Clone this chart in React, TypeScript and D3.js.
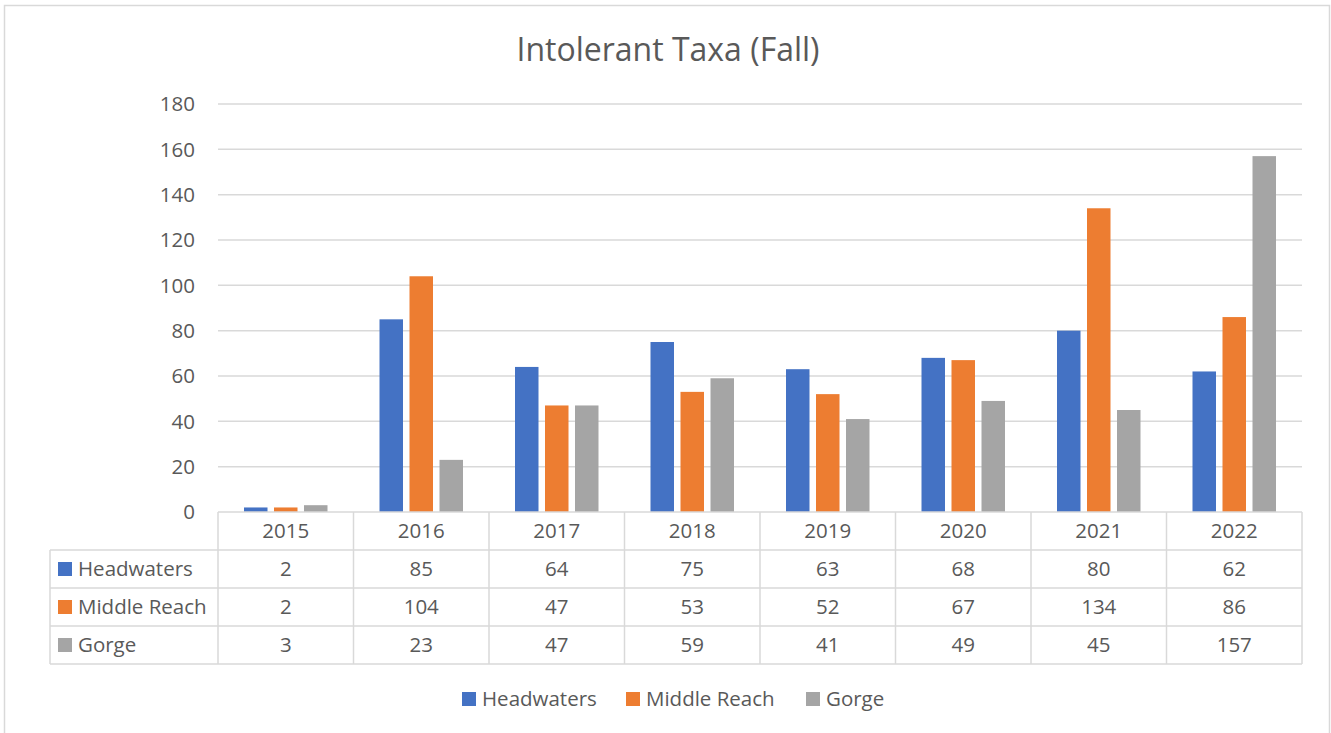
import React from "react";
import * as d3 from "d3";

const years = ["2015", "2016", "2017", "2018", "2019", "2020", "2021", "2022"];
const seriesNames = ["Headwaters", "Middle Reach", "Gorge"];
const headwaters = [2, 85, 64, 75, 63, 68, 80, 62];
const middleReach = [2, 104, 47, 53, 52, 67, 134, 86];
const gorge = [3, 23, 47, 59, 41, 49, 45, 157];
const colors = ["#4472C4", "#ED7D31", "#A5A5A5"];
const yTicks = [0, 20, 40, 60, 80, 100, 120, 140, 160, 180];
const title = "Intolerant Taxa (Fall)";

const FONT = "'Open Sans', sans-serif";
const TXT = "#595959";
const GRID = "#D9D9D9";

export default function App() {
  const W = 1331, H = 733;
  const left = 218, right = 1302, top = 104, bottom = 512;
  const series = [headwaters, middleReach, gorge];
  const x = d3.scaleBand<string>().domain(years).range([left, right]).paddingInner(0).paddingOuter(0);
  const y = d3.scaleLinear().domain([0, 180]).range([bottom, top]);
  const step = 30, bw = 23.5;
  const rowH = 38;
  const tableLeft = 50;
  const headerBottom = bottom + rowH;
  const fs = 20.5;

  return (
    <svg width={W} height={H} style={{ position: "absolute", left: 0, top: 0, background: "#fff" }} fontFamily={FONT}>
      <rect x={4.5} y={5.5} width={1325} height={740} fill="#fff" stroke={GRID} strokeWidth={1.5} />
      <text x={668} y={61} textAnchor="middle" fontSize={32} fill={TXT}>{title}</text>
      {yTicks.map((t) => (
        <g key={t}>
          {t > 0 && <line x1={left} x2={right} y1={y(t)} y2={y(t)} stroke={GRID} strokeWidth={1.5} />}
          <text x={195} y={y(t)} dy="0.35em" textAnchor="end" fontSize={fs} fill={TXT}>{t}</text>
        </g>
      ))}
      {years.map((yr, i) => {
        const c = (x(yr) as number) + x.bandwidth() / 2;
        return series.map((s, k) => (
          <rect key={yr + k} x={c + (k - 1) * step - bw / 2} y={y(s[i])} width={bw} height={bottom - y(s[i])} fill={colors[k]} />
        ));
      })}
      <g stroke={GRID} strokeWidth={1.5} fill="none">
        <line x1={left} x2={right} y1={bottom} y2={bottom} />
        {[1, 2, 3, 4].map((r) => (
          <line key={r} x1={tableLeft} x2={right} y1={bottom + r * rowH} y2={bottom + r * rowH} />
        ))}
        <line x1={tableLeft} x2={tableLeft} y1={headerBottom} y2={bottom + 4 * rowH} />
        {years.map((yr) => (
          <line key={yr} x1={x(yr)} x2={x(yr)} y1={bottom} y2={bottom + 4 * rowH} />
        ))}
        <line x1={right} x2={right} y1={bottom} y2={bottom + 4 * rowH} />
      </g>
      {years.map((yr) => (
        <text key={yr} x={(x(yr) as number) + x.bandwidth() / 2} y={bottom + rowH / 2} dy="0.35em" textAnchor="middle" fontSize={fs} fill={TXT}>{yr}</text>
      ))}
      {seriesNames.map((n, k) => {
        const cy = headerBottom + k * rowH + rowH / 2;
        return (
          <g key={n}>
            <rect x={58} y={cy - 7} width={14} height={14} fill={colors[k]} />
            <text x={78} y={cy} dy="0.35em" fontSize={fs} fill={TXT}>{n}</text>
            {years.map((yr, i) => (
              <text key={yr} x={(x(yr) as number) + x.bandwidth() / 2} y={cy} dy="0.35em" textAnchor="middle" fontSize={fs} fill={TXT}>{series[k][i]}</text>
            ))}
          </g>
        );
      })}
      {seriesNames.map((n, k) => {
        const lx = [462, 626, 806][k];
        return (
          <g key={n}>
            <rect x={lx} y={692} width={14} height={14} fill={colors[k]} />
            <text x={lx + 20} y={699} dy="0.35em" fontSize={fs} fill={TXT}>{n}</text>
          </g>
        );
      })}
    </svg>
  );
}
